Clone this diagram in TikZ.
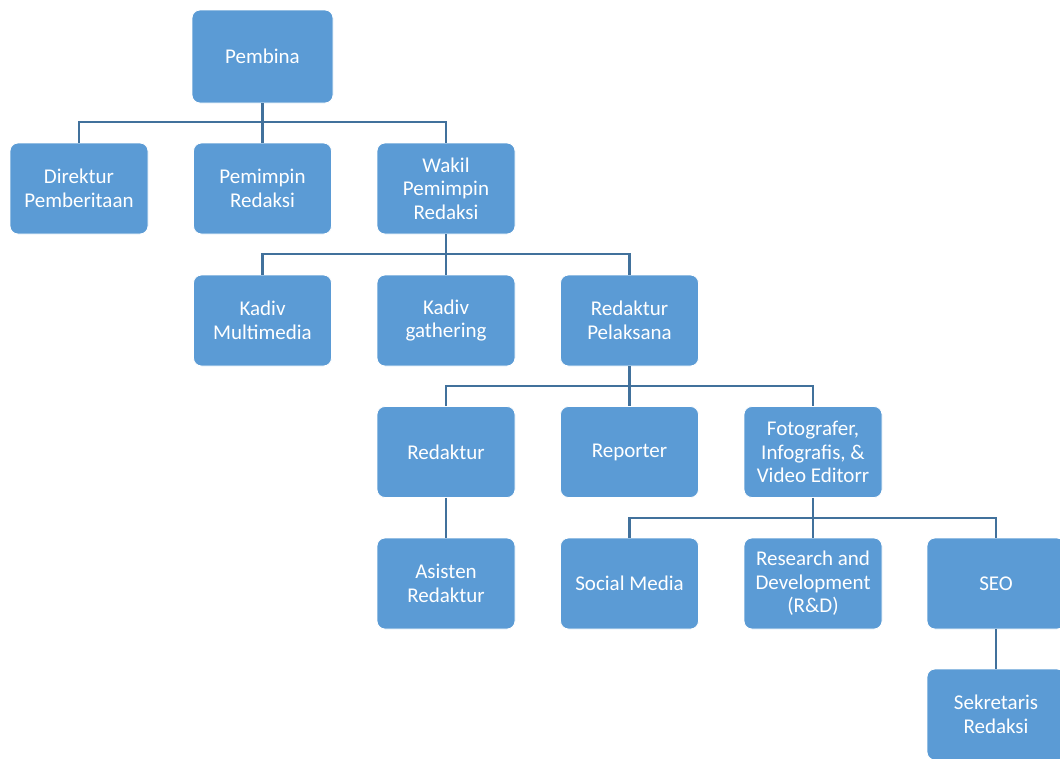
\documentclass[tikz,border=0pt]{standalone}
\usepackage{fontspec}
\setmainfont{Carlito}
\definecolor{boxblue}{HTML}{5B9BD5}
\definecolor{lineblue}{HTML}{41719C}
\tikzset{
  orgbox/.style={draw=white, line width=0.8pt, fill=boxblue, rounded corners=8pt,
    minimum width=138pt, minimum height=91pt, inner sep=0pt, align=center,
    text=white, font=\fontsize{21}{23.5}\selectfont},
  conn/.style={draw=lineblue, line width=2.2pt}
}
\begin{document}
\begin{tikzpicture}[x=1pt,y=-1pt]
\useasboundingbox (0,0) rectangle (1060,758);
\clip (0,0) rectangle (1060,758);
% buses
\coordinate (bus1) at (0,122);
\coordinate (bus2) at (0,254);
\coordinate (bus3) at (0,386);
\coordinate (bus4) at (0,518);
% nodes
\node[orgbox, minimum width=141pt, minimum height=93pt] (pembina) at (262.5,56.5) {Pembina};
\node[orgbox] (dir) at (79,188.5) {Direktur\\Pemberitaan};
\node[orgbox] (pemimpin) at (262.5,188.5) {Pemimpin\\Redaksi};
\node[orgbox] (wakil) at (446,188.5) {Wakil\\Pemimpin\\Redaksi};
\node[orgbox] (kmulti) at (262.5,320.5) {Kadiv\\Multimedia};
\node[orgbox] (kgather) at (446,320.5) {Kadiv\\gathering};
\node[orgbox] (redpel) at (629.5,320.5) {Redaktur\\Pelaksana};
\node[orgbox] (redaktur) at (446,452) {Redaktur};
\node[orgbox] (reporter) at (629.5,452) {Reporter};
\node[orgbox] (foto) at (813,452) {Fotografer,\\Infografis, \&\\Video Editorr};
\node[orgbox] (asisten) at (446,583.5) {Asisten\\Redaktur};
\node[orgbox] (social) at (629.5,583.5) {Social Media};
\node[orgbox] (rnd) at (813,583.5) {Research and\\Development\\(R\&D)};
\node[orgbox] (seo) at (996,583.5) {SEO};
\node[orgbox] (sekre) at (996,714.5) {Sekretaris\\Redaksi};
% connectors
\draw[conn] (pembina.south) -- (pemimpin.north);
\draw[conn] (dir.north) |- (bus1 -| wakil.north) -- (wakil.north);
\draw[conn] (wakil.south) -- (kgather.north);
\draw[conn] (kmulti.north) |- (bus2 -| redpel.north) -- (redpel.north);
\draw[conn] (redpel.south) -- (reporter.north);
\draw[conn] (redaktur.north) |- (bus3 -| foto.north) -- (foto.north);
\draw[conn] (redaktur.south) -- (asisten.north);
\draw[conn] (foto.south) -- (rnd.north);
\draw[conn] (social.north) |- (bus4 -| seo.north) -- (seo.north);
\draw[conn] (seo.south) -- (sekre.north);
\end{tikzpicture}
\end{document}
